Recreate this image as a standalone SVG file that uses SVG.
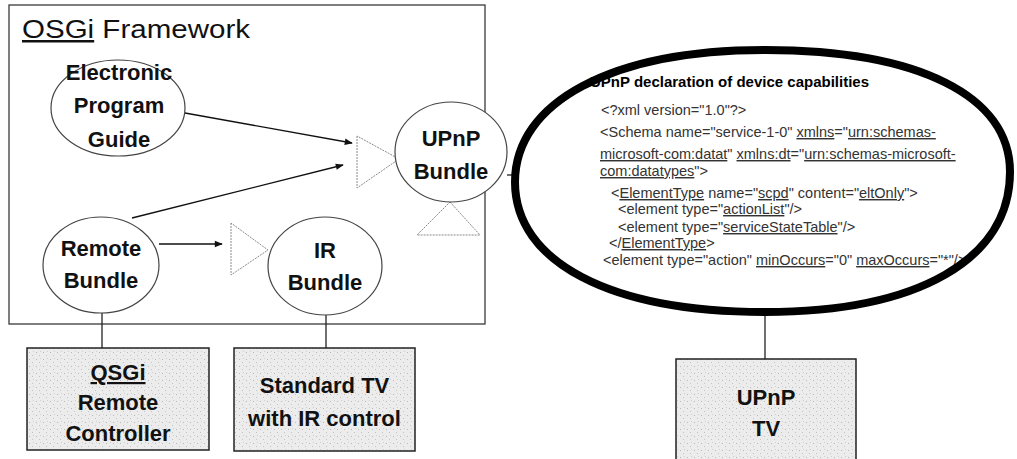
<svg xmlns="http://www.w3.org/2000/svg" width="1017" height="459" viewBox="0 0 1017 459">
<defs>
<style>
.frame{fill:#fff;stroke:#3a3a3a;stroke-width:1.3}
.node{fill:#fff;stroke:#444;stroke-width:1.2}
.box{fill:url(#speckle);stroke:#222;stroke-width:1.5}
.lbl{font-family:"Liberation Sans",Arial,sans-serif;font-size:22px;font-weight:bold;fill:#111;text-anchor:middle}
.title{font-family:"Liberation Sans",Arial,sans-serif;font-size:25px;fill:#111}
.conn{stroke:#222;stroke-width:1.3;fill:none}
.arr{stroke:#111;stroke-width:1.4;fill:none;marker-end:url(#ah)}
.iface{fill:#fff;stroke:#8a8a8a;stroke-width:1;stroke-dasharray:2 1}
.big{fill:none;stroke:#000;stroke-width:8}
.ctitle{font-family:"Liberation Sans",Arial,sans-serif;font-size:15px;font-weight:bold;fill:#000}
.code{font-family:"Liberation Sans",Arial,sans-serif;font-size:14.5px;fill:#333}
.sq{text-decoration:underline wavy #666}
</style>
<pattern id="speckle" width="7" height="7" patternUnits="userSpaceOnUse">
<rect width="7" height="7" fill="#ececec"/>
<rect x="1" y="2" width="1" height="1" fill="#b8b8b8"/>
<rect x="4" y="5" width="1" height="1" fill="#c4c4c4"/>
<rect x="5" y="1" width="1" height="1" fill="#cfcfcf"/>
</pattern>
<marker id="ah" viewBox="0 0 10 10" refX="9" refY="5" markerWidth="9" markerHeight="8" markerUnits="userSpaceOnUse" orient="auto">
<path d="M0,1 L10,5 L0,9 Z" fill="#111"/>
</marker>
</defs>

<g id="osgi-framework">
<rect class="frame" x="9" y="5" width="476" height="319"/>
<text class="title" x="22" y="38" textLength="228" lengthAdjust="spacingAndGlyphs"><tspan class="sq">OSGi</tspan> Framework</text>
</g>

<g id="connectors">
<path class="arr" d="M185,113 L352,143"/>
<path class="arr" d="M132,218 L343,165"/>
<path class="arr" d="M159,244 L222,244"/>
<path class="conn" d="M102,313 L102,348"/>
<path class="conn" d="M326,315 L326,348"/>
<path class="conn" d="M765,316 L765,359"/>
<path class="conn" d="M507,175 L515,175"/>
</g>

<g id="interfaces">
<path class="iface" d="M357,136 L357,188 L399,159 Z"/>
<path class="iface" d="M231,223 L231,275 L268,250 Z"/>
<path class="iface" d="M450,202 L480,235 L417,235 Z"/>
</g>

<g id="epg">
<ellipse class="node" cx="118" cy="108" rx="67" ry="48"/>
<text class="lbl" x="119" y="80">Electronic</text>
<text class="lbl" x="119" y="113">Program</text>
<text class="lbl" x="119" y="147">Guide</text>
</g>

<g id="upnp-bundle">
<ellipse class="node" cx="451" cy="152" rx="56" ry="50"/>
<text class="lbl" x="451" y="146">UPnP</text>
<text class="lbl" x="451" y="179">Bundle</text>
</g>

<g id="remote-bundle">
<ellipse class="node" cx="101" cy="265" rx="58" ry="48"/>
<text class="lbl" x="101" y="256">Remote</text>
<text class="lbl" x="101" y="288">Bundle</text>
</g>

<g id="ir-bundle">
<ellipse class="node" cx="325" cy="266" rx="57" ry="49"/>
<text class="lbl" x="325" y="258">IR</text>
<text class="lbl" x="325" y="290">Bundle</text>
</g>

<g id="osgi-remote-controller">
<rect class="box" x="27" y="348" width="182" height="102"/>
<text class="lbl" x="118" y="380"><tspan class="sq">QSGi</tspan></text>
<text class="lbl" x="118" y="410">Remote</text>
<text class="lbl" x="118" y="441">Controller</text>
</g>

<g id="standard-tv">
<rect class="box" x="234" y="348" width="181" height="103"/>
<text class="lbl" x="324.5" y="393">Standard TV</text>
<text class="lbl" x="324.5" y="426">with IR control</text>
</g>

<g id="upnp-tv">
<rect class="box" x="676" y="359" width="180" height="112"/>
<text class="lbl" x="766" y="405">UPnP</text>
<text class="lbl" x="766" y="436">TV</text>
</g>

<g id="upnp-declaration">
<text class="ctitle" x="590" y="87">UPnP declaration of device capabilities</text>
<text class="code" x="601" y="115">&lt;?xml version="1.0"?&gt;</text>
<text class="code" x="600" y="137">&lt;Schema name="service-1-0" <tspan class="sq">xmlns</tspan>="<tspan class="sq">urn:schemas-</tspan></text>
<text class="code" x="600" y="159"><tspan class="sq">microsoft-com:datat</tspan>" <tspan class="sq">xmlns:dt</tspan>="<tspan class="sq">urn:schemas-microsoft-</tspan></text>
<text class="code" x="600" y="176"><tspan class="sq">com:datatypes</tspan>"&gt;</text>
<text class="code" x="611" y="198">&lt;<tspan class="sq">ElementType</tspan> name="<tspan class="sq">scpd</tspan>" content="<tspan class="sq">eltOnly</tspan>"&gt;</text>
<text class="code" x="618" y="214">&lt;element type="<tspan class="sq">actionList</tspan>"/&gt;</text>
<text class="code" x="618" y="232">&lt;element type="<tspan class="sq">serviceStateTable</tspan>"/&gt;</text>
<text class="code" x="609" y="248">&lt;/<tspan class="sq">ElementType</tspan>&gt;</text>
<text class="code" x="603" y="265">&lt;element type="action" <tspan class="sq">minOccurs</tspan>="0" <tspan class="sq">maxOccurs</tspan>="*"/&gt;</text>
<path class="big" d="M515,182 C515,102 612,50 765,50 C919,50 1010,96 1010,172 C1010,259 919,312 765,312 C610,312 515,262 515,182 Z"/>
</g>
</svg>
